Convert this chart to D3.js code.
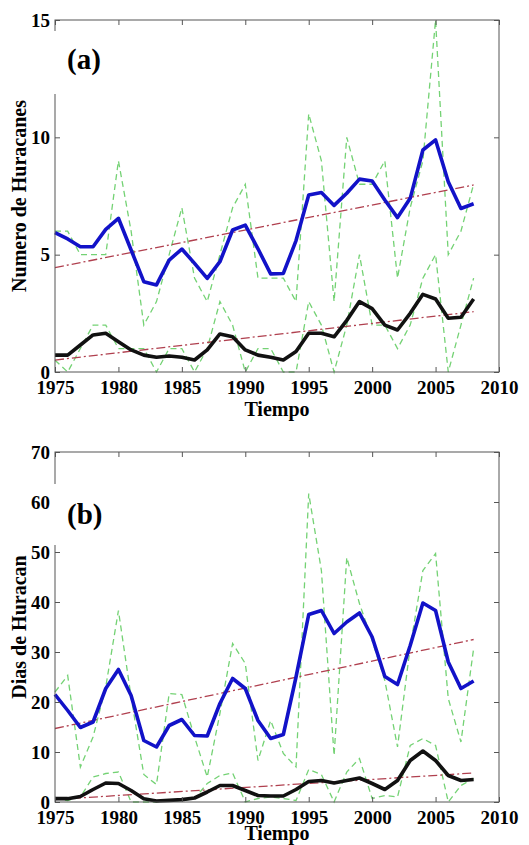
<!DOCTYPE html>
<html>
<head>
<meta charset="utf-8">
<script src="https://cdn.jsdelivr.net/npm/d3@7"></script>
<style>
  body { margin: 0; background: #fff; }
  svg { display: block; }
</style>
</head>
<body>
<div class="chart"></div>
<script>
const years = [1975, 1976, 1977, 1978, 1979, 1980, 1981, 1982, 1983, 1984,
  1985, 1986, 1987, 1988, 1989, 1990, 1991, 1992, 1993, 1994,
  1995, 1996, 1997, 1998, 1999, 2000, 2001, 2002, 2003, 2004,
  2005, 2006, 2007, 2008];
const xTickYears = [1975, 1980, 1985, 1990, 1995, 2000, 2005, 2010];
const yTicksA = [0, 5, 10, 15];
const yTicksB = [0, 10, 20, 30, 40, 50, 60, 70];
const trendYears = [1975, 2008];

// (a) numero de huracanes
const hurCountA = [6, 6, 5, 5, 5, 9, 6, 2, 3, 5, 7, 4, 3, 5, 7, 8, 4, 4, 4, 3,
  11, 9, 3, 10, 8, 8, 9, 4, 7, 9, 15, 5, 6, 8];
const hurSmoothA = [5.94, 5.67, 5.34, 5.34, 6.08, 6.55, 5.2, 3.85, 3.71, 4.77,
  5.24, 4.63, 3.99, 4.7, 6.05, 6.26, 5.25, 4.18, 4.2, 5.6,
  7.54, 7.65, 7.1, 7.62, 8.22, 8.14, 7.33, 6.58, 7.4, 9.46,
  9.89, 8.11, 6.97, 7.17];
const majCountA = [0.5, 0, 1, 2, 2, 1, 1, 1, 0, 1, 1, 0, 1, 3, 2, 0, 1, 1, 0, 0,
  3, 2, 0, 2, 5, 2, 2, 1, 2, 4, 5, 0, 2, 4];
const majSmoothA = [0.72, 0.72, 1.15, 1.58, 1.65, 1.29, 0.94, 0.72, 0.63, 0.68,
  0.63, 0.51, 0.94, 1.62, 1.5, 0.94, 0.72, 0.63, 0.51, 0.87,
  1.65, 1.65, 1.5, 2.2, 3.0, 2.7, 2.0, 1.79, 2.5, 3.31,
  3.11, 2.29, 2.33, 3.11];
const hurTrendA = [4.45, 7.97];
const majTrendA = [0.51, 2.57];

// (b) dias de huracan
const hurDaysB = [22, 25.3, 7, 13, 23, 38.3, 21, 5.5, 3.5, 21.7,
  21.5, 13, 5, 17.7, 31.7, 27.7, 8.3, 16.3, 9.7, 7,
  61.7, 46.3, 9.3, 48.9, 39.7, 32.3, 24.3, 11, 31, 46.3,
  49.7, 20.7, 12, 30.7];
const hurDaysSmoothB = [21.5, 18.3, 14.9, 16, 22.7, 26.5, 21.3, 12.3, 11, 15.3,
  16.5, 13.3, 13.2, 19.7, 24.7, 22.7, 16.3, 12.7, 13.5, 25,
  37.5, 38.3, 33.7, 36, 37.8, 33, 25.1, 23.5, 31.3, 39.8,
  38.3, 28, 22.7, 24.2];
const majDaysB = [0.7, 0.3, 1, 5, 5.7, 6, 0, 0, 0, 0.3,
  0.3, 0.7, 3.7, 5.3, 5.8, 0, 0.7, 1, 0.7, 0.3,
  6.5, 5.5, 0, 6, 8.7, 0.7, 1.3, 1, 11.3, 12.7,
  11.3, 0, 3.3, 4.7];
const majDaysSmoothB = [0.67, 0.67, 1.1, 2.5, 3.8, 3.7, 2.3, 0.67, 0.2, 0.33,
  0.47, 0.8, 2.0, 3.3, 3.3, 2.3, 1.3, 1.2, 1.2, 2.5,
  4.1, 4.3, 3.8, 4.3, 4.8, 3.7, 2.5, 4.3, 8.3, 10.2,
  8.3, 5.3, 4.3, 4.5];
const hurTrendB = [14.7, 32.5];
const majTrendB = [0.5, 5.8];

const w = 529;
const h = 845;
const serif = "'Liberation Serif', 'Times New Roman', Times, serif";

const svg = d3.select('.chart')
  .append('svg')
  .attr('width', w)
  .attr('height', h);

function drawPanel(p) {
  const left = 55, right = 499;
  const xScale = d3.scaleLinear().domain([1975, 2010]).range([left, right]);
  const yScale = d3.scaleLinear().domain([0, p.yTicks[p.yTicks.length - 1]]).range([p.bottom, p.top]);
  const g = svg.append('g');

  const line = d3.line()
    .x((d, i) => xScale(years[i]))
    .y((d) => yScale(d));
  const trendLine = d3.line()
    .x((d, i) => xScale(trendYears[i]))
    .y((d) => yScale(d));

  // raw annual values, green dashed
  [p.rawUpper, p.rawLower].forEach((s) => {
    g.append('path')
      .attr('d', line(s))
      .attr('fill', 'none')
      .attr('stroke', '#74d274')
      .attr('stroke-width', 1.3)
      .attr('stroke-dasharray', '6,4');
  });

  // linear trends, red dash-dot
  [p.trendUpper, p.trendLower].forEach((s) => {
    g.append('path')
      .attr('d', trendLine(s))
      .attr('fill', 'none')
      .attr('stroke', '#b0404f')
      .attr('stroke-width', 1.3)
      .attr('stroke-dasharray', '9,3,2,3');
  });

  g.append('path')
    .attr('d', line(p.smoothUpper))
    .attr('fill', 'none')
    .attr('stroke', '#1212c8')
    .attr('stroke-width', 3.6)
    .attr('stroke-linejoin', 'round');

  g.append('path')
    .attr('d', line(p.smoothLower))
    .attr('fill', 'none')
    .attr('stroke', '#111')
    .attr('stroke-width', 3.6)
    .attr('stroke-linejoin', 'round');

  // axes, matlab style box with inward ticks
  const styleAxis = (a) => {
    a.select('.domain').remove();
    a.selectAll('.tick line').attr('stroke', '#555');
    a.selectAll('text')
      .attr('font-family', serif)
      .attr('font-size', 19)
      .attr('font-weight', 'bold')
      .attr('fill', '#000');
  };

  g.append('g')
    .attr('transform', `translate(0, ${p.bottom})`)
    .call(d3.axisBottom(xScale).tickValues(xTickYears).tickFormat(d3.format('d'))
      .tickSizeInner(-5).tickSizeOuter(0).tickPadding(p.xPad))
    .call(styleAxis);

  g.append('g')
    .attr('transform', `translate(0, ${p.top})`)
    .call(d3.axisTop(xScale).tickValues(xTickYears).tickFormat('')
      .tickSizeInner(-5).tickSizeOuter(0))
    .call(styleAxis);

  g.append('g')
    .attr('transform', `translate(${left}, 0)`)
    .call(d3.axisLeft(yScale).tickValues(p.yTicks).tickFormat(d3.format('d'))
      .tickSizeInner(-5).tickSizeOuter(0).tickPadding(5))
    .call(styleAxis);

  g.append('g')
    .attr('transform', `translate(${right}, 0)`)
    .call(d3.axisRight(yScale).tickValues(p.yTicks).tickFormat('')
      .tickSizeInner(-5).tickSizeOuter(0))
    .call(styleAxis);

  g.append('rect')
    .attr('x', left)
    .attr('y', p.top)
    .attr('width', right - left)
    .attr('height', p.bottom - p.top)
    .attr('fill', 'none')
    .attr('stroke', '#555')
    .attr('stroke-width', 1);

  // panel letter sits on a white box that hides part of the y axis
  g.append('rect')
    .attr('x', 52)
    .attr('y', p.boxTop)
    .attr('width', 62)
    .attr('height', p.boxHeight)
    .attr('fill', '#fff');

  g.append('text')
    .attr('x', 67)
    .attr('y', p.labelY)
    .attr('font-family', serif)
    .attr('font-size', 29)
    .attr('font-weight', 'bold')
    .text(p.label);

  g.append('text')
    .attr('transform', `translate(26, ${(p.top + p.bottom) / 2}) rotate(-90)`)
    .attr('text-anchor', 'middle')
    .attr('font-family', serif)
    .attr('font-size', 20)
    .attr('font-weight', 'bold')
    .text(p.yTitle);

  g.append('text')
    .attr('x', (left + right) / 2)
    .attr('y', p.xTitleY)
    .attr('text-anchor', 'middle')
    .attr('font-family', serif)
    .attr('font-size', 20)
    .attr('font-weight', 'bold')
    .text('Tiempo');
}

drawPanel({
  top: 20, bottom: 372, yTicks: yTicksA, xPad: 9,
  rawUpper: hurCountA, rawLower: majCountA,
  smoothUpper: hurSmoothA, smoothLower: majSmoothA,
  trendUpper: hurTrendA, trendLower: majTrendA,
  label: '(a)', labelY: 69, boxTop: 31, boxHeight: 63,
  yTitle: 'Numero de Huracanes', xTitleY: 416
});

drawPanel({
  top: 452, bottom: 802, yTicks: yTicksB, xPad: 9,
  rawUpper: hurDaysB, rawLower: majDaysB,
  smoothUpper: hurDaysSmoothB, smoothLower: majDaysSmoothB,
  trendUpper: hurTrendB, trendLower: majTrendB,
  label: '(b)', labelY: 524, boxTop: 484, boxHeight: 61,
  yTitle: 'Dias de Huracan', xTitleY: 840
});
</script>
</body>
</html>
